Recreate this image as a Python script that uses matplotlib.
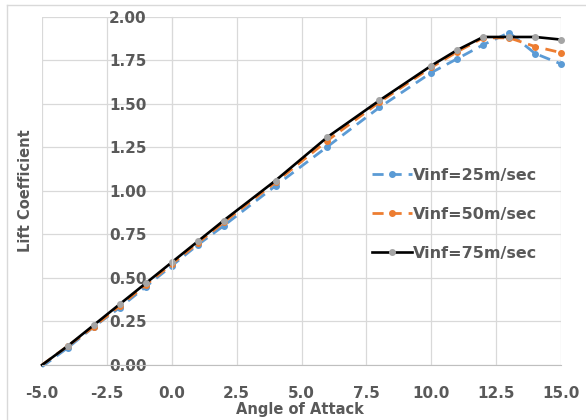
import matplotlib.pyplot as plt
from matplotlib.lines import Line2D

# angle of attack (deg)
alpha = [-5, -4, -3, -2, -1, 0, 1, 2, 4, 6, 8, 10, 11, 12, 13, 14, 15]

# lift coefficient for each free stream speed
cl_25 = [-0.01, 0.10, 0.22, 0.33, 0.45, 0.57, 0.69, 0.80, 1.03, 1.255, 1.48, 1.68, 1.76, 1.84, 1.91, 1.79, 1.73]
cl_50 = [0.0, 0.11, 0.22, 0.34, 0.46, 0.58, 0.70, 0.82, 1.05, 1.29, 1.51, 1.71, 1.80, 1.88, 1.88, 1.83, 1.795]
cl_75 = [0.0, 0.11, 0.23, 0.35, 0.47, 0.59, 0.71, 0.83, 1.06, 1.31, 1.52, 1.72, 1.81, 1.885, 1.885, 1.885, 1.87]

labels = ["Vinf=25m/sec", "Vinf=50m/sec", "Vinf=75m/sec"]

xticks = [-5.0, -2.5, 0.0, 2.5, 5.0, 7.5, 10.0, 12.5, 15.0]
yticks = [0.0, 0.25, 0.5, 0.75, 1.0, 1.25, 1.5, 1.75, 2.0]

txt = "#595959"
plt.rcParams['font.family'] = ['DejaVu Sans']

fig = plt.figure(figsize=(5.86, 4.2), dpi=100)
ax = fig.add_axes([0.0717, 0.131, 0.8857, 0.8286])

marks = list(range(1, len(alpha)))
ax.plot(alpha, cl_25, color="#5B9BD5", ls=(0, (4, 2.5)), lw=2.0, markevery=marks,
        marker="o", ms=4, mfc="#5B9BD5", mec="#5B9BD5", label=labels[0], clip_on=False)
ax.plot(alpha, cl_50, color="#ED7D31", ls=(0, (4, 2.5)), lw=2.0, markevery=marks,
        marker="o", ms=4, mfc="#ED7D31", mec="#ED7D31", label=labels[1], clip_on=False)
ax.plot(alpha, cl_75, color="black", ls="-", lw=1.9, markevery=marks,
        marker="o", ms=4, mfc="#A5A5A5", mec="#A5A5A5", label=labels[2], clip_on=False)

ax.set_xlim(-5, 15)
ax.set_ylim(0, 2.0)
ax.set_xticks(xticks)
ax.set_yticks(yticks)
ax.set_xticklabels(["%.1f" % v for v in xticks])
ax.set_yticklabels(["%.2f" % v for v in yticks])
ax.grid(True, color="#D9D9D9", lw=0.9)
ax.set_axisbelow(True)

for s in ["top", "right"]:
    ax.spines[s].set_visible(False)
ax.spines["left"].set_position(("data", 0))
ax.spines["left"].set_color("#D9D9D9")
ax.spines["bottom"].set_color("#BFBFBF")
ax.tick_params(length=0, labelsize=11, labelcolor=txt)
ax.tick_params(axis="x", pad=15)
ax.tick_params(axis="y", pad=18)
for t in ax.get_xticklabels() + ax.get_yticklabels():
    t.set_fontweight("bold")

fig.text(0.512, 0.024, "Angle of Attack", ha="center", va="center",
         fontsize=10.5, fontweight="bold", color=txt)
fig.text(0.043, 0.545, "Lift Coefficient", ha="center", va="center", rotation=90,
         fontsize=10.5, fontweight="bold", color=txt)

leg = ax.legend(loc="upper left", bbox_to_anchor=(0.62, 0.59), frameon=False,
                fontsize=11.5, labelcolor=txt, handlelength=2.5, labelspacing=1.5,
                handletextpad=0.1, borderpad=0)
for t in leg.get_texts():
    t.set_fontweight("bold")

# chart area border (top and left only are visible in the reference)
fig.add_artist(Line2D([7 / 586, 1.0], [1 - 5 / 420, 1 - 5 / 420],
                      transform=fig.transFigure, color="#D9D9D9", lw=1))
fig.add_artist(Line2D([7 / 586, 7 / 586], [0.0, 1 - 5 / 420],
                      transform=fig.transFigure, color="#D9D9D9", lw=1))

fig.savefig("out.png", dpi=100)
